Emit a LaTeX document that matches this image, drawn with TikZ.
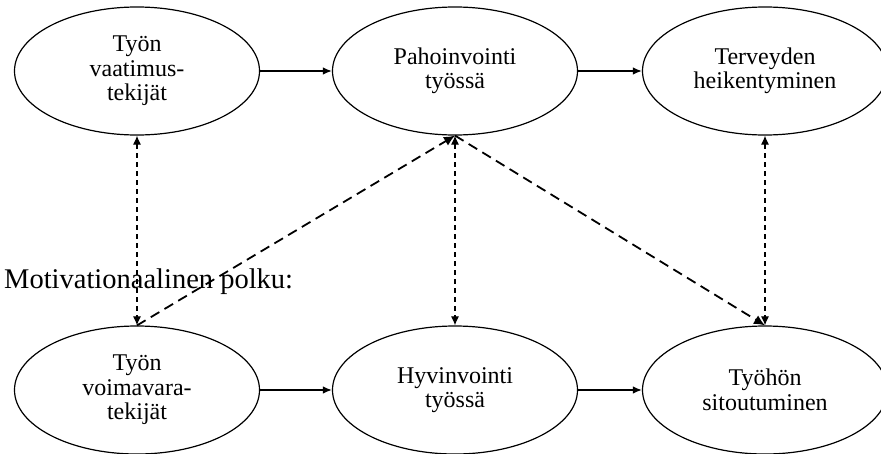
\documentclass[tikz,border=0pt]{standalone}
\usepackage{fontspec}
\setmainfont{Liberation Serif}
\usetikzlibrary{shapes.geometric,arrows.meta}
\begin{document}
\begin{tikzpicture}[x=1pt,y=-1pt,
  oval/.style={draw,ellipse,line width=1.2pt,minimum width=245pt,minimum height=128pt,inner sep=0pt,align=center,font=\fontsize{24}{24.5}\selectfont},
  solidarrow/.style={line width=1.4pt,-{Latex[length=9pt,width=7.5pt]}},
  thindash/.style={line width=1.1pt,dash pattern=on 5pt off 4pt,{Latex[length=9pt,width=8pt]}-{Latex[length=9pt,width=8pt]}},
  thickdash/.style={line width=1.8pt,dash pattern=on 10pt off 6pt}
]
\useasboundingbox (0,0) rectangle (881,453);
\node[oval] (e1) at (137,71) {Työn\\vaatimus-\\tekijät};
\node[oval] (e2) at (455,71) {Pahoinvointi\\työssä};
\node[oval] (e3) at (765,71) {Terveyden\\heikentyminen};
\node[oval] (e4) at (137,390) {Työn\\voimavara-\\tekijät};
\node[oval] (e5) at (455,390) {Hyvinvointi\\työssä};
\node[oval] (e6) at (765,390) {Työhön\\sitoutuminen};
\draw[solidarrow] (e1.east) -- (e2.west);
\draw[solidarrow] (e2.east) -- (e3.west);
\draw[solidarrow] (e4.east) -- (e5.west);
\draw[solidarrow] (e5.east) -- (e6.west);
\draw[thindash] (e1.south) -- (e4.north);
\draw[thindash] (e2.south) -- (e5.north);
\draw[thindash] (e3.south) -- (e6.north);
\draw[thickdash,-{Latex[length=11pt,width=10pt]}] (e4.north) -- (e2.south);
\draw[thickdash,-{Latex[length=11pt,width=10pt]}] (e2.south) -- (e6.north);
\node[anchor=base west,inner sep=0pt,font=\fontsize{28.5}{30}\selectfont] (mp) at (4,288) {Motivationaalinen polku:};
\end{tikzpicture}
\end{document}
